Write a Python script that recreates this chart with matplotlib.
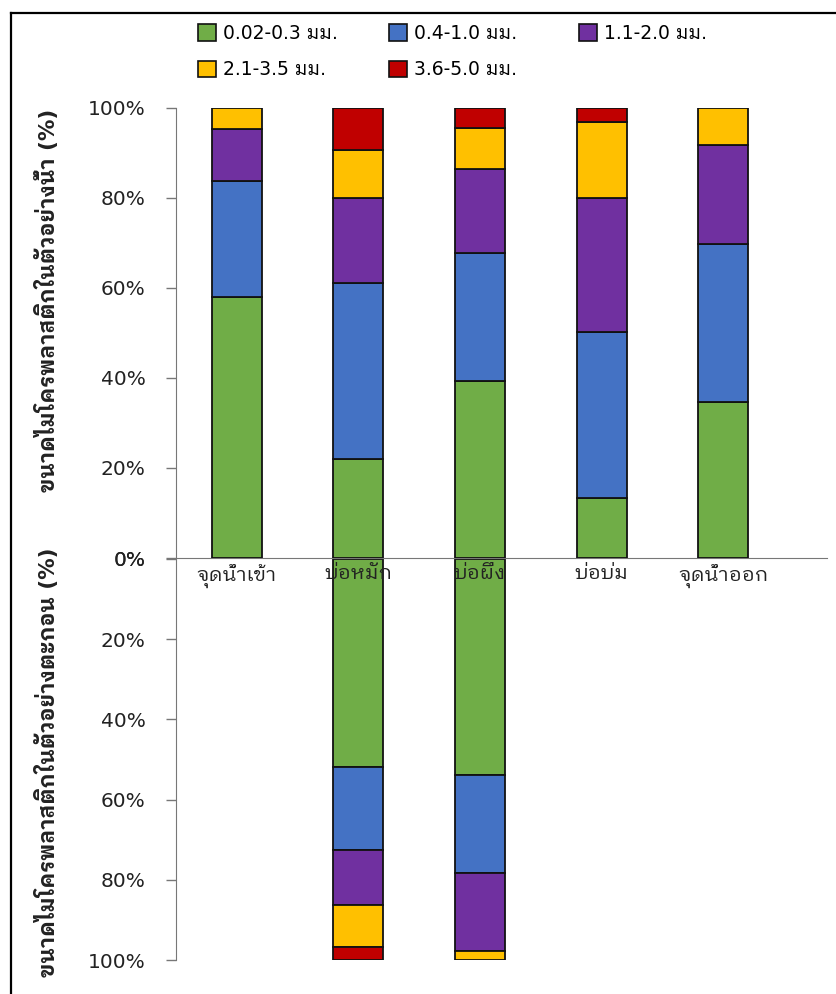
import matplotlib
matplotlib.use('Agg')
import matplotlib.pyplot as plt
from matplotlib.patches import Patch
from matplotlib.lines import Line2D

# data
sites = ['จุดน้ำเข้า', 'บ่อหมัก', 'บ่อผึ่ง', 'บ่อบ่ม', 'จุดน้ำออก']
size_classes = ['0.02-0.3 มม.', '0.4-1.0 มม.', '1.1-2.0 มม.', '2.1-3.5 มม.', '3.6-5.0 มม.']
colors = ['#70AD47', '#4472C4', '#7030A0', '#FFC000', '#C00000']

# water samples (%), one list per size class
water = [
    [58.0, 22.0, 39.4, 13.3, 34.7],
    [25.6, 39.0, 28.2, 36.8, 35.0],
    [11.7, 18.9, 18.7, 29.8, 21.9],
    [4.7, 10.6, 9.2, 16.9, 8.4],
    [0.0, 9.5, 4.5, 3.2, 0.0],
]
# sediment samples (%), only two ponds
sediment = [
    [0, 51.9, 53.8, 0, 0],
    [0, 20.7, 24.4, 0, 0],
    [0, 13.7, 19.6, 0, 0],
    [0, 10.4, 2.2, 0, 0],
    [0, 3.3, 0.0, 0, 0],
]
pct_ticks = [0, 20, 40, 60, 80, 100]

ylabel_top = 'ขนาดไมโครพลาสติกในตัวอย่างน้ำ (%)'
ylabel_bottom = 'ขนาดไมโครพลาสติกในตัวอย่างตะกอน (%)'

thai_family = ['DejaVu Sans', 'IBM Plex Sans Thai Looped', 'Noto Sans Thai Looped', 'Loma']
plt.rcParams['font.family'] = thai_family

W, H = 837, 994
fig = plt.figure(figsize=(W / 100, H / 100), dpi=100)

x = list(range(len(sites)))
bar_w = 0.41
x_left, x_right = 176, 827
unit = 121.6
xlim = (-0.5, -0.5 + (x_right - x_left) / unit)

# bottom chart first so the top chart's tick labels sit above its bars
ax_b = fig.add_axes([x_left / W, 1 - 960 / H, (x_right - x_left) / W, (960 - 559) / H])
ax_t = fig.add_axes([x_left / W, 1 - 558 / H, (x_right - x_left) / W, (558 - 107.5) / H])
ax_t.set_facecolor('none')
ax_b.set_facecolor('none')

for ax, data in [(ax_t, water), (ax_b, sediment)]:
    base = [0.0] * len(sites)
    for vals, col in zip(data, colors):
        xs = [xi for xi, v in zip(x, vals) if v > 0]
        hs = [v for v in vals if v > 0]
        bs = [b for b, v in zip(base, vals) if v > 0]
        ax.bar(xs, hs, bottom=bs, width=bar_w, color=col, edgecolor='#111111', linewidth=1.3, zorder=3)
        base = [b + v for b, v in zip(base, vals)]
    ax.set_xlim(*xlim)
    ax.set_yticks(pct_ticks)
    ax.set_yticklabels([f'{t}%' for t in pct_ticks], fontsize=14.5, color='#222222')
    ax.tick_params(axis='y', length=7, width=1, color='#777777', pad=15)
    for s in ['top', 'right', 'bottom']:
        ax.spines[s].set_visible(False)
    ax.spines['left'].set_color('#777777')

ax_t.set_ylim(0, 100)
ax_b.set_ylim(100, 0)

ax_t.spines['bottom'].set_visible(True)
ax_t.spines['bottom'].set_color('#777777')
ax_t.set_xticks(x)
ax_t.set_xticklabels(sites, fontsize=14.5, color='#222222')
ax_t.tick_params(axis='x', length=0, pad=4)
ax_b.set_xticks([])

fig.text(47 / W, 1 - 300 / H, ylabel_top, rotation=90, ha='center', va='center',
         fontsize=15.5, fontweight='bold', color='#222222')
fig.text(47 / W, 1 - 762 / H, ylabel_bottom, rotation=90, ha='center', va='center',
         fontsize=15.5, fontweight='bold', color='#222222')

# legend: one small legend per column, as in the reference
legend_cols = [[0, 3], [1, 4], [2]]
legend_x = [192, 383, 573]
for idx, lx in zip(legend_cols, legend_x):
    handles = [Patch(facecolor=colors[i], edgecolor='#111111', linewidth=1.2) for i in idx]
    labels = [size_classes[i] for i in idx]
    fig.legend(handles, labels, loc='upper left', bbox_to_anchor=(lx / W, 1 - 18 / H),
               frameon=False, fontsize=13.5, handlelength=1.0, handleheight=1.0,
               handletextpad=0.35, labelspacing=0.95, borderaxespad=0, borderpad=0.3)

# frame lines of the original picture
fig.add_artist(Line2D([11 / W, 11 / W], [0, 1 - 13 / H], color='black', linewidth=1.6))
fig.add_artist(Line2D([11 / W, 1], [1 - 13 / H, 1 - 13 / H], color='black', linewidth=1.6))

fig.savefig('out.png', dpi=100)
